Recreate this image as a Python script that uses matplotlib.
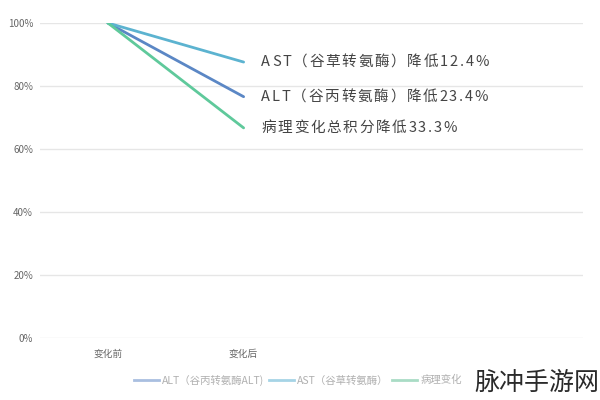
import numpy as np
import matplotlib.pyplot as plt
import matplotlib.ticker as mtick
from matplotlib.transforms import offset_copy

plt.rcParams['font.family'] = ['Noto Sans CJK SC', 'DejaVu Sans']

### DATA
categories = ['变化前', '变化后', '', '']
alt_values = [100, 76.6]
ast_values = [100, 87.6]
path_values = [100, 66.7]
series_names = ['ALT（谷丙转氨酶ALT)', 'AST（谷草转氨酶）', '病理变化']
end_labels = ['ALT（谷丙转氨酶）降低23.4%', 'AST（谷草转氨酶）降低12.4%', '病理变化总积分降低33.3%']
y_ticks = [0, 20, 40, 60, 80, 100]

line_colors = ['#5b87c5', '#5cb3d0', '#5fc99b']
legend_colors = ['#a9bfe0', '#a6d4e6', '#a9dcc5']

fig = plt.figure(figsize=(6, 4), dpi=100)
ax = fig.add_axes([40 / 600, 62 / 400, 543 / 600, 315 / 400])
renderer = fig.canvas.get_renderer()


def spaced_text(x0, y0, s, spacing=1.6, **kw):
    # draw a label char by char so it gets some letter spacing (px)
    dx = 0.0
    for ch in s:
        t = ax.text(x0, y0, ch, transform=offset_copy(ax.transData, fig=fig, x=dx, y=0, units='dots'),
                    **kw)
        w = t.get_window_extent(renderer).width
        dx += w + spacing


x = np.arange(len(alt_values))
for vals, col, lab in zip([alt_values, ast_values, path_values], line_colors, end_labels):
    ax.plot(x, vals, color=col, lw=2, solid_capstyle='round', zorder=3)
    spaced_text(x[-1] + 0.13, vals[-1], lab, spacing=1.7, fontsize=10.5, color='#444444',
                va='center', ha='left')

ax.set_xlim(-0.5, 3.5)
ax.set_ylim(0, 100)
ax.set_yticks(y_ticks)
ax.yaxis.set_major_formatter(mtick.FuncFormatter(lambda v, p: '%d%%' % v))
ax.set_xticks(np.arange(len(categories)))
ax.set_xticklabels(categories)
ax.tick_params(axis='both', length=0, labelsize=7, labelcolor='#666666')
ax.tick_params(axis='x', pad=8)
ax.tick_params(axis='y', pad=5)
ax.grid(axis='y', color='#e6e6e6', lw=1)
ax.set_axisbelow(True)
for s in ax.spines.values():
    s.set_visible(False)

# legend
handles = [plt.Line2D([], [], color=c, lw=2) for c in legend_colors]
leg = fig.legend(handles, series_names, loc='center', bbox_to_anchor=(298 / 600, 1 - 380 / 400),
                 ncol=3, frameon=False, fontsize=7.5, handlelength=2.4, handletextpad=0.3,
                 columnspacing=0.4, labelcolor='#b0b0b0')

# watermark
fig.text(537 / 600, 1 - 383 / 400, '脉冲手游网', fontsize=18, color='#2a2a2a',
         ha='center', va='center', fontweight='light')

fig.savefig('out.png', dpi=100)
